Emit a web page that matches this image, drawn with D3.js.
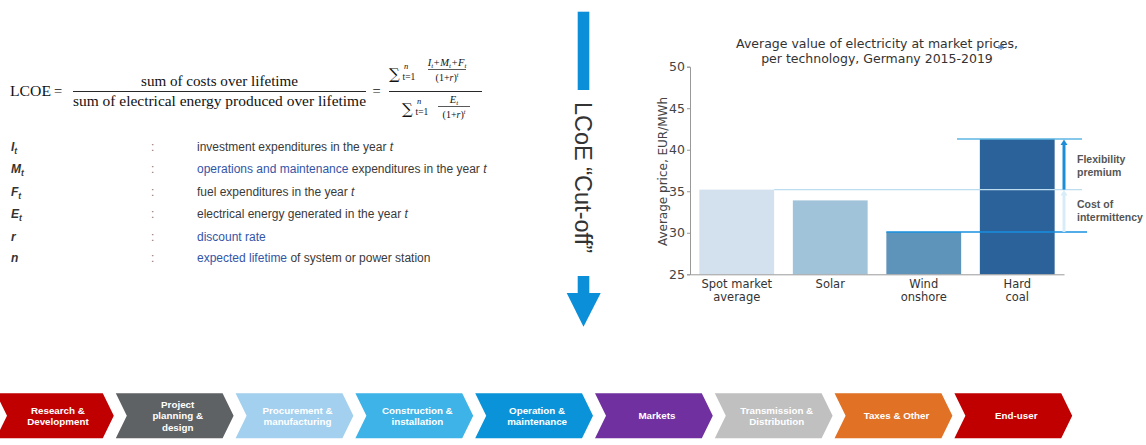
<!DOCTYPE html>
<html>
<head>
<meta charset="utf-8">
<script src="https://cdn.jsdelivr.net/npm/d3@7"></script>
<style>
  html, body { margin: 0; padding: 0; background: #fff; }
  svg { display: block; }
</style>
</head>
<body>
<svg id="fig" width="1146" height="445"></svg>
<script>
// ---- Bar chart data: average market value per technology (EUR/MWh)
const categories = [["Spot market", "average"], ["Solar"], ["Wind", "onshore"], ["Hard", "coal"]];
const prices = [35.2, 33.9, 30.1, 41.3];
const barColors = ["#d3e1ef", "#a1c3d9", "#5e94b9", "#2b6299"];
const yTicks = [25, 30, 35, 40, 45, 50];

// ---- Reference levels drawn across the chart
const coalLevel = 41.3;
const spotLevel = 35.2;
const windLevel = 30.1;

// ---- LCOE symbol definitions
const symbols = [["I", "t"], ["M", "t"], ["F", "t"], ["E", "t"], ["r", ""], ["n", ""]];
const definitions = [
  [["investment expenditures in the year ", 0], ["t", 2]],
  [["operations and maintenance", 1], [" expenditures in the year ", 0], ["t", 2]],
  [["fuel expenditures in the year ", 0], ["t", 2]],
  [["electrical energy generated in the year ", 0], ["t", 2]],
  [["discount rate", 1]],
  [["expected lifetime", 1], [" of system or power station", 0]]
];

// ---- Value chain stages
const stages = [
  ["Research &", "Development"],
  ["Project", "planning &", "design"],
  ["Procurement &", "manufacturing"],
  ["Construction &", "installation"],
  ["Operation &", "maintenance"],
  ["Markets"],
  ["Transmission &", "Distribution"],
  ["Taxes & Other"],
  ["End-user"]
];
const stageColors = ["#c00000", "#5f6264", "#a3d0ee", "#3db3e8", "#0a93d8", "#7030a0", "#c0c0c0", "#e07125", "#c00000"];

const svg = d3.select("#fig");

// =============== LCOE formula ===============
const F = svg.append("g").attr("font-family", "'Liberation Serif', 'DejaVu Serif', serif").attr("fill", "#111");
F.append("text").attr("x", 10).attr("y", 96).attr("font-size", 14).attr("textLength", 41).attr("lengthAdjust", "spacingAndGlyphs").text("LCOE");
F.append("text").attr("x", 54).attr("y", 96).attr("font-size", 14.5).text("=");
F.append("text").attr("x", 219.5).attr("y", 86).attr("text-anchor", "middle").attr("font-size", 14)
  .attr("textLength", 157).attr("lengthAdjust", "spacingAndGlyphs").text("sum of costs over lifetime");
F.append("line").attr("x1", 73).attr("x2", 366).attr("y1", 91.5).attr("y2", 91.5).attr("stroke", "#111").attr("stroke-width", 0.9);
F.append("text").attr("x", 219.5).attr("y", 106).attr("text-anchor", "middle").attr("font-size", 14)
  .attr("textLength", 293).attr("lengthAdjust", "spacingAndGlyphs").text("sum of electrical energy produced over lifetime");
F.append("text").attr("x", 372.5).attr("y", 96).attr("font-size", 14.5).text("=");
F.append("line").attr("x1", 389).attr("x2", 482).attr("y1", 91.5).attr("y2", 91.5).attr("stroke", "#111").attr("stroke-width", 0.9);

function sumTerm(g, x, base) {
  g.append("text").attr("x", x).attr("y", base + 1).attr("font-size", 15)
    .attr("font-family", "'DejaVu Serif', serif").text("\u2211");
  g.append("text").attr("x", x + 13.5).attr("y", base + 2).attr("font-size", 9.5).text("t=1");
  g.append("text").attr("x", x + 15).attr("y", base - 9).attr("font-size", 8.5).attr("font-style", "italic").text("n");
}
function smallFrac(g, cx, ty, x1, x2, numParts) {
  const t = g.append("text").attr("x", cx).attr("y", ty).attr("text-anchor", "middle").attr("font-size", 10.5).attr("font-style", "italic");
  numParts.forEach(p => {
    const s = t.append("tspan").text(p[0]);
    if (p[1]) { s.attr("font-size", 7).attr("dy", 2); }
    else { s.attr("dy", t.selectAll("tspan").size() > 1 ? -2 : 0); }
  });
  g.append("line").attr("x1", x1).attr("x2", x2).attr("y1", ty + 4).attr("y2", ty + 4).attr("stroke", "#111").attr("stroke-width", 0.7);
  const d = g.append("text").attr("x", cx).attr("y", ty + 15).attr("text-anchor", "middle").attr("font-size", 10);
  d.append("tspan").text("(1+");
  d.append("tspan").attr("font-style", "italic").text("r");
  d.append("tspan").text(")");
  d.append("tspan").attr("font-size", 6).attr("dy", -4).attr("font-style", "italic").text("t");
}
sumTerm(F, 389, 78);
smallFrac(F, 447, 65.5, 428, 466, [["I", 0], ["t", 1], ["+M", 0], ["t", 1], ["+F", 0], ["t", 1]]);
sumTerm(F, 402, 113);
smallFrac(F, 454, 102.5, 438, 470, [["E", 0], ["t", 1]]);

// =============== Symbol definitions ===============
const rowY = [146.7, 169, 192, 214, 236.7, 258];
const L = svg.append("g").attr("font-family", "'Liberation Sans', Arial, sans-serif").attr("font-size", 12);
symbols.forEach((s, i) => {
  const t = L.append("text").attr("x", 11).attr("y", rowY[i] + 4).attr("font-weight", "bold").attr("font-style", "italic").attr("fill", "#333");
  t.append("tspan").text(s[0]);
  if (s[1]) t.append("tspan").attr("font-size", 8.5).attr("dy", 3).text(s[1]);
  L.append("text").attr("x", 151).attr("y", rowY[i] + 4).attr("fill", "#777").text(":");
  const d = L.append("text").attr("x", 197).attr("y", rowY[i] + 4);
  definitions[i].forEach(p => {
    d.append("tspan").text(p[0])
      .attr("fill", p[1] === 1 ? "#3355a8" : "#3a3a3a")
      .attr("font-style", p[1] === 2 ? "italic" : null);
  });
});

// =============== Cut-off arrow ===============
const A = svg.append("g");
const arrowBlue = "#0a8fd8";
A.append("rect").attr("x", 577.7).attr("y", 11.7).attr("width", 11.6).attr("height", 78.3).attr("fill", arrowBlue);
A.append("rect").attr("x", 577.7).attr("y", 276).attr("width", 11.6).attr("height", 18).attr("fill", arrowBlue);
A.append("path").attr("d", d3.line()([[566.7, 293], [600.7, 293], [583.5, 326.7]])).attr("fill", arrowBlue);
A.append("text").attr("transform", "translate(575,102) rotate(90)")
  .attr("font-family", "'Liberation Sans', Arial, sans-serif").attr("font-size", 23).attr("fill", "#333")
  .attr("textLength", 151).attr("lengthAdjust", "spacingAndGlyphs")
  .text("LCoE \u201CCut-off\u201D");

// =============== Bar chart ===============
const C = svg.append("g").attr("font-family", "'DejaVu Sans', sans-serif");
const x = d3.scaleBand().domain(d3.range(categories.length)).range([690, 1064]).paddingInner(0.2).paddingOuter(0.1);
const y = d3.scaleLinear().domain([25, 50]).range([274.3, 66.7]);

C.selectAll("rect.bar").data(prices).join("rect").attr("class", "bar")
  .attr("x", (d, i) => x(i)).attr("width", x.bandwidth())
  .attr("y", d => y(d)).attr("height", d => y(25) - y(d))
  .attr("fill", (d, i) => barColors[i]);

const yAxis = C.append("g").attr("transform", "translate(690,0)")
  .call(d3.axisLeft(y).tickValues(yTicks).tickSize(3).tickPadding(2).tickFormat(d3.format("d")));
yAxis.select(".domain").attr("stroke", "#999");
yAxis.selectAll(".tick line").attr("stroke", "#999");
yAxis.selectAll(".tick text").attr("font-size", 12.5).attr("fill", "#444").attr("font-family", "'DejaVu Sans', sans-serif");

const xAxis = C.append("g").attr("transform", "translate(0,274.3)")
  .call(d3.axisBottom(x).tickSize(0).tickPadding(0).tickFormat(""));
xAxis.select(".domain").attr("stroke", "#999");
xAxis.selectAll(".tick").each(function(d) {
  const t = d3.select(this).append("text").attr("fill", "#333").attr("font-size", 11.5)
    .attr("text-anchor", "middle").attr("font-family", "'DejaVu Sans', sans-serif");
  categories[d].forEach((line, k) => t.append("tspan").attr("x", 0).attr("y", 14 + k * 13).text(line));
});

C.append("text").attr("transform", "translate(667,171.5) rotate(-90)").attr("text-anchor", "middle")
  .attr("font-size", 12).attr("fill", "#444").text("Average price, EUR/MWh");

C.append("text").attr("x", 877).attr("y", 48).attr("text-anchor", "middle").attr("font-size", 12.5).attr("fill", "#333")
  .text("Average value of electricity at market prices,");
C.append("text").attr("x", 877).attr("y", 63).attr("text-anchor", "middle").attr("font-size", 12.5).attr("fill", "#333")
  .text("per technology, Germany 2015-2019");
// small star mark beside the title
const star = C.append("g").attr("transform", "translate(1001,47)").attr("stroke", "#4a78b8").attr("stroke-width", 1.1);
[0, 60, 120].forEach(a => star.append("line").attr("x1", 0).attr("y1", -3).attr("x2", 0).attr("y2", 3).attr("transform", `rotate(${a})`));

// Reference lines from the spot, wind and coal levels
C.append("line").attr("x1", x(0) + x.bandwidth()).attr("x2", 1082).attr("y1", y(spotLevel)).attr("y2", y(spotLevel))
  .attr("stroke", "#bcdcf0").attr("stroke-width", 1.3);
C.append("line").attr("x1", 957).attr("x2", 1082).attr("y1", y(coalLevel)).attr("y2", y(coalLevel))
  .attr("stroke", "#5cb6e2").attr("stroke-width", 1.5);
C.append("line").attr("x1", x(2)).attr("x2", 1087).attr("y1", y(windLevel)).attr("y2", y(windLevel))
  .attr("stroke", "#1890e0").attr("stroke-width", 1.5);

function upArrow(xp, from, to, color) {
  C.append("line").attr("x1", xp).attr("x2", xp).attr("y1", y(from)).attr("y2", y(to) + 5)
    .attr("stroke", color).attr("stroke-width", 3);
  C.append("path").attr("d", d3.line()([[xp - 3.5, y(to) + 6], [xp + 3.5, y(to) + 6], [xp, y(to) + 0.5]])).attr("fill", color);
}
upArrow(1064, spotLevel, coalLevel, "#1a8fd8");
upArrow(1064, windLevel, spotLevel, "#d8ecf8");

const annot = [[["Flexibility", "premium"], 159.3], [["Cost of", "intermittency"], 204]];
annot.forEach(a => {
  const t = C.append("text").attr("font-family", "'Liberation Sans', Arial, sans-serif").attr("font-size", 10.5)
    .attr("font-weight", "bold").attr("fill", "#555");
  a[0].forEach((line, k) => t.append("tspan").attr("x", 1077).attr("y", a[1] + 4 + k * 12.5).text(line));
});

// =============== Value chain chevrons ===============
const step = 119.8, gap = 2, depth = 11, chevTop = 393.3, chevBottom = 438.3, chevMid = (chevTop + chevBottom) / 2;
const chev = svg.append("g").attr("font-family", "'Liberation Sans', Arial, sans-serif");
stages.forEach((lines, i) => {
  const x0 = -4 + i * step, w = step - gap;
  chev.append("path")
    .attr("d", d3.line()([[x0, chevTop], [x0 + w - depth, chevTop], [x0 + w, chevMid], [x0 + w - depth, chevBottom], [x0, chevBottom], [x0 + depth, chevMid]]) + "Z")
    .attr("fill", stageColors[i]);
  const cx = x0 + w / 2 + 3;
  const t = chev.append("text").attr("text-anchor", "middle").attr("font-size", 9.8).attr("font-weight", "bold").attr("fill", "#fff");
  lines.forEach((ln, k) => {
    t.append("tspan").attr("x", cx).attr("y", chevMid + 3.5 + (k - (lines.length - 1) / 2) * 11.5).text(ln);
  });
});
</script>
</body>
</html>
